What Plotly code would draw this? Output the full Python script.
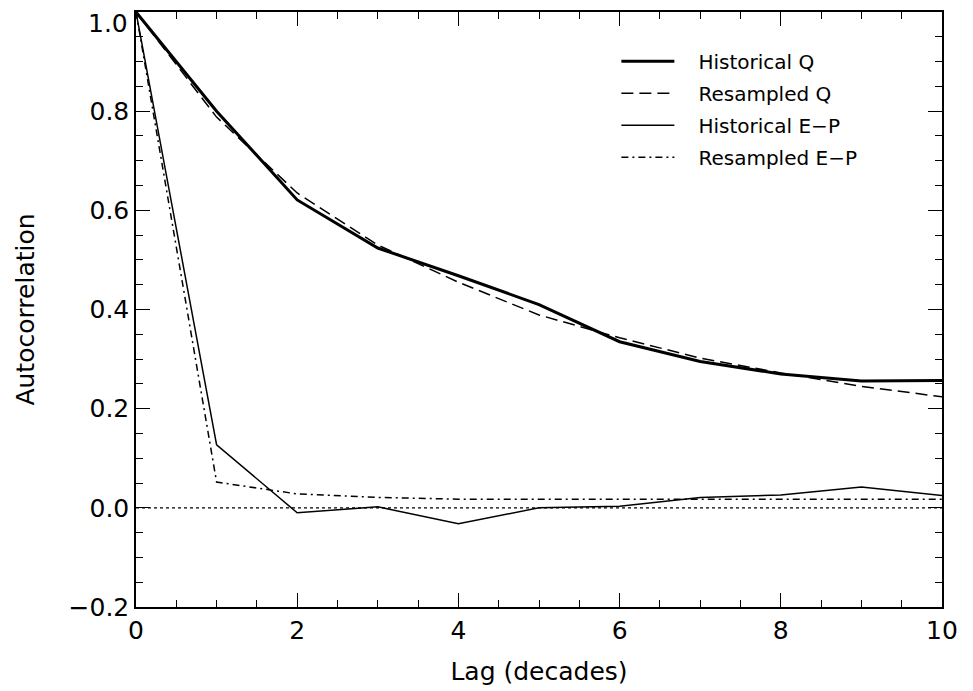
import plotly.graph_objects as go

lags = [0, 1, 2, 3, 4, 5, 6, 7, 8, 9, 10]
hist_q = [1.0, 0.80, 0.621, 0.524, 0.468, 0.41, 0.335, 0.295, 0.27, 0.256, 0.257]
resamp_q = [1.0, 0.788, 0.635, 0.53, 0.455, 0.389, 0.343, 0.302, 0.272, 0.245, 0.224]
hist_ep = [1.0, 0.127, -0.01, 0.002, -0.032, 0.0, 0.003, 0.021, 0.026, 0.042, 0.025]
resamp_ep = [1.0, 0.052, 0.028, 0.021, 0.0175, 0.017, 0.0175, 0.0175, 0.0175, 0.0175, 0.0175]
series_names = ["Historical Q", "Resampled Q", "Historical E\u2212P", "Resampled E\u2212P"]
ytick_vals = [-0.2, 0.0, 0.2, 0.4, 0.6, 0.8]
top_label = "1.0"

FONT = "DejaVu Sans"
PAD = "\u00a0\u00a0\u00a0"

fig = go.Figure()
styles = [
    (hist_q, dict(color="black", width=3, dash="solid")),
    (resamp_q, dict(color="black", width=1.5, dash="12px,6px")),
    (hist_ep, dict(color="black", width=1.5, dash="solid")),
    (resamp_ep, dict(color="black", width=1.5, dash="7px,4px,2px,4px")),
]
for i, (vals, ln) in enumerate(styles):
    fig.add_trace(go.Scatter(x=lags, y=vals, mode="lines", name=PAD + series_names[i],
                             line=ln, legendgroup=str(i)))

fig.add_hline(y=0, line=dict(color="black", width=1.3, dash="dot"))

tickfont = dict(family=FONT, size=25, color="black")
axis_common = dict(
    showgrid=False, zeroline=False, showline=True, linecolor="black", linewidth=1.5,
    mirror="ticks", ticks="inside", ticklen=14, tickwidth=1.2, tickcolor="black",
    tickfont=tickfont, automargin=False,
)
fig.update_xaxes(range=[0, 10], dtick=2, tick0=0,
                 minor=dict(dtick=0.5, ticklen=7, ticks="inside", tickcolor="black", tickwidth=1.2),
                 title=dict(text="Lag (decades)", font=tickfont, standoff=19),
                 **axis_common)
fig.update_yaxes(range=[-0.2, 1.0], tickvals=ytick_vals + [1.0],
                 ticktext=["%.1f" % v if v >= 0 else "\u2212%.1f" % abs(v) for v in ytick_vals] + [""],
                 minor=dict(dtick=0.05, ticklen=7, ticks="inside", tickcolor="black", tickwidth=1.2),
                 title=dict(text="Autocorrelation", font=tickfont, standoff=27),
                 **axis_common)

fig.add_annotation(text=top_label, xref="paper", x=0, xanchor="right", xshift=-6,
                   yref="y", y=1.0, yanchor="middle", yshift=-11, showarrow=False,
                   font=tickfont)

fig.update_layout(
    width=973, height=691,
    margin=dict(l=136, r=31, t=12, b=84),
    plot_bgcolor="white", paper_bgcolor="white",
    showlegend=True,
    legend=dict(x=0.596, y=0.95, xanchor="left", yanchor="top",
                bgcolor="rgba(0,0,0,0)", borderwidth=0,
                font=dict(family=FONT, size=20, color="black"),
                tracegroupgap=3, itemwidth=53),
)
fig.write_html("out.html")
